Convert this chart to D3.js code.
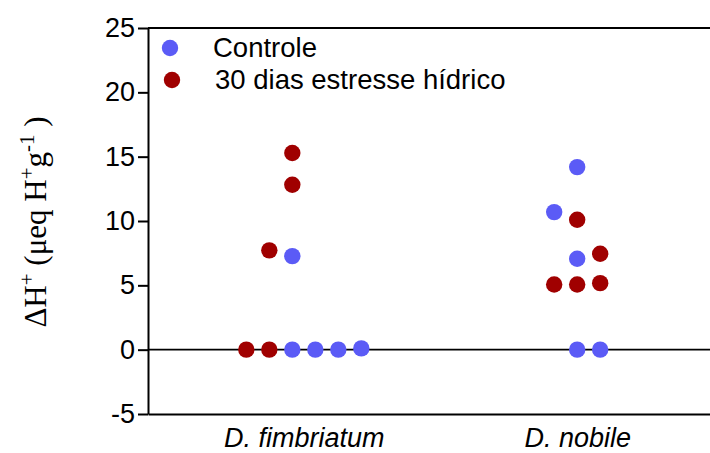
<!DOCTYPE html>
<html lang="pt">
<head>
<meta charset="UTF-8">
<title>ΔH+ scatter</title>
<style>
  body { margin: 0; background: #fff; }
  svg text { font-family: "Liberation Sans", Arial, sans-serif; fill: #000; }
  .axis path, .axis line { stroke: #000; stroke-width: 2px; }
  .axis text { font-size: 27px; }
</style>
</head>
<body>
<div id="chart"></div>
<script src="https://d3js.org/d3.v7.min.js"></script>
<script>
// categories and legend names
const categories = ["D. fimbriatum", "D. nobile"];
const seriesNames = ["Controle", "30 dias estresse hídrico"];
const yTicks = [-5, 0, 5, 10, 15, 20, 25];

// values, with the swarm column each dot sits in
const controleFimb = [0, 0, 0, 0.1, 7.27];
const controleFimbCol = [-0.5, 0.5, 1.5, 2.5, -0.5];
const estresseFimb = [0, 0, 7.72, 12.82, 15.28];
const estresseFimbCol = [-2.5, -1.5, -1.5, -0.5, -0.5];

const controleNob = [14.19, 10.69, 7.07, 0, 0];
const controleNobCol = [0, -1, 0, 0, 1];
const estresseNob = [10.1, 7.46, 5.07, 5.07, 5.17];
const estresseNobCol = [0, 1, -1, 0, 1];

const colors = ["#5b5bf6", "#a00000"];

const width = 710, height = 453;
const margin = { left: 148, top: 28, bottom: 39 };
const plotW = 585;
const yBottom = height - margin.bottom;

const svg = d3.select("#chart").append("svg")
  .attr("width", width)
  .attr("height", height);

const x = d3.scalePoint()
  .domain(categories)
  .range([margin.left, margin.left + plotW])
  .padding(0.57);

const y = d3.scaleLinear()
  .domain([-5, 25])
  .range([yBottom, margin.top]);

const colStep = 23;

// top frame line
svg.append("line")
  .attr("x1", margin.left).attr("x2", margin.left + plotW)
  .attr("y1", y(25)).attr("y2", y(25))
  .attr("stroke", "#000").attr("stroke-width", 2);

// zero line
svg.append("line")
  .attr("x1", margin.left).attr("x2", margin.left + plotW)
  .attr("y1", y(0)).attr("y2", y(0))
  .attr("stroke", "#000").attr("stroke-width", 1.6);

// y axis
svg.append("g")
  .attr("class", "axis")
  .attr("transform", `translate(${margin.left},0)`)
  .call(d3.axisLeft(y).tickValues(yTicks).tickFormat(d => String(d))
    .tickSize(10).tickPadding(3).tickSizeOuter(0));

// x axis
const xAxis = svg.append("g")
  .attr("class", "axis")
  .attr("transform", `translate(0,${yBottom})`)
  .call(d3.axisBottom(x).tickSize(0).tickPadding(14).tickSizeOuter(0));
xAxis.selectAll("text").style("font-style", "italic").attr("dy", "0.71em");

// points
const groups = [
  { cat: categories[0], vals: controleFimb, cols: controleFimbCol, s: 0 },
  { cat: categories[0], vals: estresseFimb, cols: estresseFimbCol, s: 1 },
  { cat: categories[1], vals: controleNob, cols: controleNobCol, s: 0 },
  { cat: categories[1], vals: estresseNob, cols: estresseNobCol, s: 1 }
];
const pts = groups.flatMap(g => g.vals.map((v, i) => ({ cat: g.cat, v: v, col: g.cols[i], s: g.s })));

svg.append("g").selectAll("circle")
  .data(pts)
  .enter().append("circle")
  .attr("cx", d => x(d.cat) + d.col * colStep)
  .attr("cy", d => y(d.v))
  .attr("r", 8.2)
  .attr("fill", d => colors[d.s]);

// legend
const legend = svg.append("g");
seriesNames.forEach((name, i) => {
  legend.append("circle")
    .attr("cx", 170 + i * 2).attr("cy", 48 + i * 32)
    .attr("r", 8.2).attr("fill", colors[i]);
  legend.append("text")
    .attr("x", 213 + i * 2).attr("y", 57 + i * 31.5)
    .style("font-size", "27.5px")
    .text(name);
});

// y axis title
const yTitle = svg.append("text")
  .attr("transform", `translate(46,${(y(25) + y(-5)) / 2 + 1}) rotate(-90)`)
  .attr("text-anchor", "middle")
  .style("font-family", "'Liberation Serif', 'Times New Roman', serif")
  .style("font-size", "31px");
yTitle.append("tspan").text("ΔH");
yTitle.append("tspan").attr("baseline-shift", "super").style("font-size", "21px").text("+");
yTitle.append("tspan").text(" (μeq H");
yTitle.append("tspan").attr("baseline-shift", "super").style("font-size", "21px").text("+");
yTitle.append("tspan").text("g");
yTitle.append("tspan").attr("baseline-shift", "super").style("font-size", "21px").text("-1");
yTitle.append("tspan").text(" )");
</script>
</body>
</html>
